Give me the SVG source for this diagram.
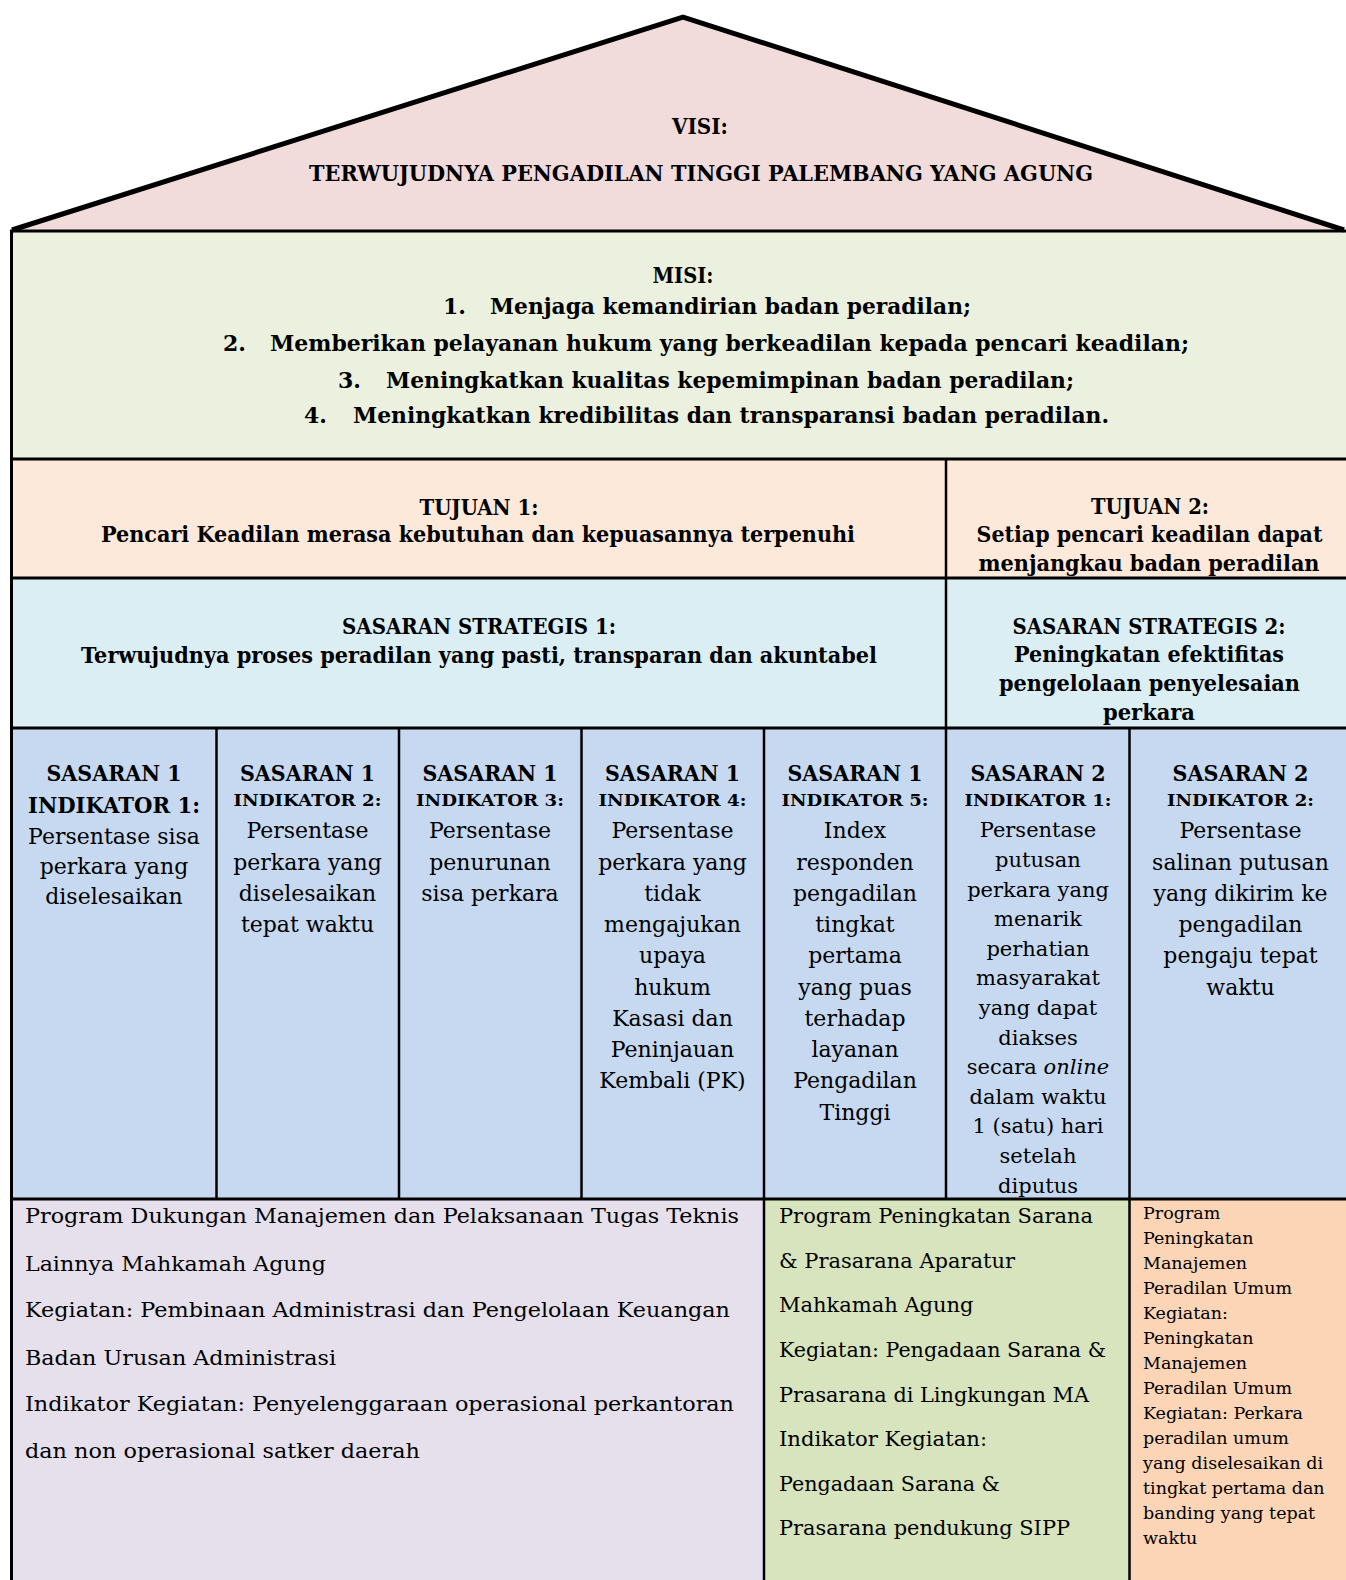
<svg xmlns="http://www.w3.org/2000/svg" width="1346" height="1580" viewBox="0 0 1346 1580">
<style>
.b{font-family:"DejaVu Serif","Liberation Serif",serif;font-weight:bold;fill:#000}
.r{font-family:"DejaVu Serif","Liberation Serif",serif;font-weight:normal;fill:#000}
.c{text-anchor:middle}
.h{font-size:22px}
.s{font-size:22px}
.i{font-size:17px}
.t{font-size:22px}
.t6{font-size:21px}
.p{font-size:21px}
.q{font-size:17.5px}
.ln{stroke:#000;fill:none}
</style>
<rect width="1346" height="1580" fill="#ffffff"/>
<g id="fills">
<rect x="12" y="231" width="1334" height="228" fill="#EBF1DE"/>
<rect x="12" y="459" width="1334" height="119" fill="#FDE9D9"/>
<rect x="12" y="578" width="1334" height="150" fill="#DBEEF3"/>
<rect x="12" y="728" width="1334" height="471" fill="#C6D9F1"/>
<rect x="12" y="1199" width="752" height="381" fill="#E5E0EC"/>
<rect x="764" y="1199" width="366" height="381" fill="#D7E4BD"/>
<rect x="1130" y="1199" width="216" height="381" fill="#FBD5B5"/>
</g>
<g id="roof">
<path d="M12,230 L683,17 L1344,230 Z" fill="#F2DCDB" stroke="none"/>
<path d="M12,230 L683,17 L1344,230" fill="none" stroke="#000" stroke-width="5" stroke-linejoin="miter"/>
<text class="b h c" x="700" y="134" textLength="56" lengthAdjust="spacingAndGlyphs">VISI:</text>
<text class="b h c" x="701" y="181" textLength="784" lengthAdjust="spacingAndGlyphs">TERWUJUDNYA PENGADILAN TINGGI PALEMBANG YANG AGUNG</text>
</g>
<g id="lines">
<line class="ln" x1="10" y1="231" x2="1346" y2="231" stroke-width="3"/>
<line class="ln" x1="11.5" y1="230" x2="11.5" y2="1580" stroke-width="3"/>
<line class="ln" x1="10" y1="459" x2="1346" y2="459" stroke-width="3"/>
<line class="ln" x1="10" y1="578" x2="1346" y2="578" stroke-width="3"/>
<line class="ln" x1="10" y1="728" x2="1346" y2="728" stroke-width="3"/>
<line class="ln" x1="10" y1="1199" x2="1346" y2="1199" stroke-width="3"/>
<line class="ln" x1="946" y1="459" x2="946" y2="1199" stroke-width="2.5"/>
<line class="ln" x1="216.5" y1="728" x2="216.5" y2="1199" stroke-width="2.5"/>
<line class="ln" x1="399" y1="728" x2="399" y2="1199" stroke-width="2.5"/>
<line class="ln" x1="581.5" y1="728" x2="581.5" y2="1199" stroke-width="2.5"/>
<line class="ln" x1="764" y1="728" x2="764" y2="1580" stroke-width="2.5"/>
<line class="ln" x1="1129.5" y1="728" x2="1129.5" y2="1580" stroke-width="2.5"/>
</g>
<g id="misi">
<text class="b h c" x="683" y="283" textLength="61" lengthAdjust="spacingAndGlyphs">MISI:</text>
<text class="b h" x="443" y="314">1.</text>
<text class="b h" x="490" y="314" textLength="481" lengthAdjust="spacingAndGlyphs">Menjaga kemandirian badan peradilan;</text>
<text class="b h" x="223" y="351">2.</text>
<text class="b h" x="270" y="351" textLength="919" lengthAdjust="spacingAndGlyphs">Memberikan pelayanan hukum yang berkeadilan kepada pencari keadilan;</text>
<text class="b h" x="338" y="388">3.</text>
<text class="b h" x="386" y="388" textLength="688" lengthAdjust="spacingAndGlyphs">Meningkatkan kualitas kepemimpinan badan peradilan;</text>
<text class="b h" x="304" y="423">4.</text>
<text class="b h" x="353" y="423" textLength="756" lengthAdjust="spacingAndGlyphs">Meningkatkan kredibilitas dan transparansi badan peradilan.</text>
</g>
<g id="tujuan1">
<text class="b h c" x="479" y="515" textLength="119" lengthAdjust="spacingAndGlyphs">TUJUAN 1:</text>
<text class="b h c" x="478" y="542" textLength="754" lengthAdjust="spacingAndGlyphs">Pencari Keadilan merasa kebutuhan dan kepuasannya terpenuhi</text>
</g>
<g id="tujuan2">
<text class="b h c" x="1150" y="514" textLength="118" lengthAdjust="spacingAndGlyphs">TUJUAN 2:</text>
<text class="b h c" x="1149.5" y="542" textLength="346" lengthAdjust="spacingAndGlyphs">Setiap pencari keadilan dapat</text>
<text class="b h c" x="1149" y="571" textLength="341" lengthAdjust="spacingAndGlyphs">menjangkau badan peradilan</text>
</g>
<g id="sasaran-strategis1">
<text class="b h c" x="479" y="634" textLength="274" lengthAdjust="spacingAndGlyphs">SASARAN STRATEGIS 1:</text>
<text class="b h c" x="479" y="663" textLength="796" lengthAdjust="spacingAndGlyphs">Terwujudnya proses peradilan yang pasti, transparan dan akuntabel</text>
</g>
<g id="sasaran-strategis2">
<text class="b h c" x="1149" y="634" textLength="273" lengthAdjust="spacingAndGlyphs">SASARAN STRATEGIS 2:</text>
<text class="b h c" x="1149" y="662" textLength="270" lengthAdjust="spacingAndGlyphs">Peningkatan efektifitas</text>
<text class="b h c" x="1149.5" y="691" textLength="301" lengthAdjust="spacingAndGlyphs">pengelolaan penyelesaian</text>
<text class="b h c" x="1149" y="720" textLength="92" lengthAdjust="spacingAndGlyphs">perkara</text>
</g>
<g id="s1-ind1">
<text class="b s c" x="114" y="781" textLength="135" lengthAdjust="spacingAndGlyphs">SASARAN 1</text>
<text class="b s c" x="114" y="813" textLength="172" lengthAdjust="spacingAndGlyphs">INDIKATOR 1:</text>
<text class="r t c" x="114" y="843.5">Persentase sisa</text>
<text class="r t c" x="114" y="874">perkara yang</text>
<text class="r t c" x="114" y="904">diselesaikan</text>
</g>
<g id="s1-ind2">
<text class="b s c" x="307.5" y="781" textLength="135" lengthAdjust="spacingAndGlyphs">SASARAN 1</text>
<text class="b i c" x="307.5" y="806" textLength="148" lengthAdjust="spacingAndGlyphs">INDIKATOR 2:</text>
<text class="r t c" x="307.5" y="838.4">Persentase</text>
<text class="r t c" x="307.5" y="869.6">perkara yang</text>
<text class="r t c" x="307.5" y="900.9">diselesaikan</text>
<text class="r t c" x="307.5" y="932.1">tepat waktu</text>
</g>
<g id="s1-ind3">
<text class="b s c" x="490" y="781" textLength="135" lengthAdjust="spacingAndGlyphs">SASARAN 1</text>
<text class="b i c" x="490" y="806" textLength="148" lengthAdjust="spacingAndGlyphs">INDIKATOR 3:</text>
<text class="r t c" x="490" y="838.4">Persentase</text>
<text class="r t c" x="490" y="869.6">penurunan</text>
<text class="r t c" x="490" y="900.9">sisa perkara</text>
</g>
<g id="s1-ind4">
<text class="b s c" x="672.5" y="781" textLength="135" lengthAdjust="spacingAndGlyphs">SASARAN 1</text>
<text class="b i c" x="672.5" y="806" textLength="148" lengthAdjust="spacingAndGlyphs">INDIKATOR 4:</text>
<text class="r t c" x="672.5" y="838.4">Persentase</text>
<text class="r t c" x="672.5" y="869.6">perkara yang</text>
<text class="r t c" x="672.5" y="900.9">tidak</text>
<text class="r t c" x="672.5" y="932.1">mengajukan</text>
<text class="r t c" x="672.5" y="963.4">upaya</text>
<text class="r t c" x="672.5" y="994.6">hukum</text>
<text class="r t c" x="672.5" y="1025.8">Kasasi dan</text>
<text class="r t c" x="672.5" y="1057.1">Peninjauan</text>
<text class="r t c" x="672.5" y="1088.3">Kembali (PK)</text>
</g>
<g id="s1-ind5">
<text class="b s c" x="855" y="781" textLength="135" lengthAdjust="spacingAndGlyphs">SASARAN 1</text>
<text class="b i c" x="855" y="806" textLength="147" lengthAdjust="spacingAndGlyphs">INDIKATOR 5:</text>
<text class="r t c" x="855" y="838.4">Index</text>
<text class="r t c" x="855" y="869.6">responden</text>
<text class="r t c" x="855" y="900.9">pengadilan</text>
<text class="r t c" x="855" y="932.1">tingkat</text>
<text class="r t c" x="855" y="963.4">pertama</text>
<text class="r t c" x="855" y="994.6">yang puas</text>
<text class="r t c" x="855" y="1025.8">terhadap</text>
<text class="r t c" x="855" y="1057.1">layanan</text>
<text class="r t c" x="855" y="1088.3">Pengadilan</text>
<text class="r t c" x="855" y="1119.6">Tinggi</text>
</g>
<g id="s2-ind1">
<text class="b s c" x="1038" y="781" textLength="135" lengthAdjust="spacingAndGlyphs">SASARAN 2</text>
<text class="b i c" x="1038" y="806" textLength="147" lengthAdjust="spacingAndGlyphs">INDIKATOR 1:</text>
<text class="r t6 c" x="1038" y="837.4">Persentase</text>
<text class="r t6 c" x="1038" y="867">putusan</text>
<text class="r t6 c" x="1038" y="896.6">perkara yang</text>
<text class="r t6 c" x="1038" y="926.2">menarik</text>
<text class="r t6 c" x="1038" y="955.8">perhatian</text>
<text class="r t6 c" x="1038" y="985.4">masyarakat</text>
<text class="r t6 c" x="1038" y="1015">yang dapat</text>
<text class="r t6 c" x="1038" y="1044.6">diakses</text>
<text class="r t6 c" x="1038" y="1074.2">secara <tspan font-style="italic">online</tspan></text>
<text class="r t6 c" x="1038" y="1103.8">dalam waktu</text>
<text class="r t6 c" x="1038" y="1133.4">1 (satu) hari</text>
<text class="r t6 c" x="1038" y="1163">setelah</text>
<text class="r t6 c" x="1038" y="1192.6">diputus</text>
</g>
<g id="s2-ind2">
<text class="b s c" x="1240.5" y="781" textLength="136" lengthAdjust="spacingAndGlyphs">SASARAN 2</text>
<text class="b i c" x="1240.5" y="806" textLength="147" lengthAdjust="spacingAndGlyphs">INDIKATOR 2:</text>
<text class="r t c" x="1240.5" y="838.4">Persentase</text>
<text class="r t c" x="1240.5" y="869.6">salinan putusan</text>
<text class="r t c" x="1240.5" y="900.9">yang dikirim ke</text>
<text class="r t c" x="1240.5" y="932.1">pengadilan</text>
<text class="r t c" x="1240.5" y="963.4">pengaju tepat</text>
<text class="r t c" x="1240.5" y="994.6">waktu</text>
</g>
<g id="program1">
<text class="r p" x="25" y="1223" textLength="714" lengthAdjust="spacingAndGlyphs">Program Dukungan Manajemen dan Pelaksanaan Tugas Teknis</text>
<text class="r p" x="25" y="1270.5" textLength="301" lengthAdjust="spacingAndGlyphs">Lainnya Mahkamah Agung</text>
<text class="r p" x="25" y="1317" textLength="705" lengthAdjust="spacingAndGlyphs">Kegiatan: Pembinaan Administrasi dan Pengelolaan Keuangan</text>
<text class="r p" x="25" y="1364.5" textLength="311" lengthAdjust="spacingAndGlyphs">Badan Urusan Administrasi</text>
<text class="r p" x="25" y="1411" textLength="709" lengthAdjust="spacingAndGlyphs">Indikator Kegiatan: Penyelenggaraan operasional perkantoran</text>
<text class="r p" x="25" y="1458" textLength="395" lengthAdjust="spacingAndGlyphs">dan non operasional satker daerah</text>
</g>
<g id="program2">
<text class="r p" x="779" y="1223" textLength="314" lengthAdjust="spacingAndGlyphs">Program Peningkatan Sarana</text>
<text class="r p" x="779" y="1267.5" textLength="236" lengthAdjust="spacingAndGlyphs">&amp; Prasarana Aparatur</text>
<text class="r p" x="779" y="1312">Mahkamah Agung</text>
<text class="r p" x="779" y="1357" textLength="327" lengthAdjust="spacingAndGlyphs">Kegiatan: Pengadaan Sarana &amp;</text>
<text class="r p" x="779" y="1401.5" textLength="310" lengthAdjust="spacingAndGlyphs">Prasarana di Lingkungan MA</text>
<text class="r p" x="779" y="1446" textLength="208" lengthAdjust="spacingAndGlyphs">Indikator Kegiatan:</text>
<text class="r p" x="779" y="1490.5" textLength="221" lengthAdjust="spacingAndGlyphs">Pengadaan Sarana &amp;</text>
<text class="r p" x="779" y="1535" textLength="291" lengthAdjust="spacingAndGlyphs">Prasarana pendukung SIPP</text>
</g>
<g id="program3">
<text class="r q" x="1143" y="1219">Program</text>
<text class="r q" x="1143" y="1244">Peningkatan</text>
<text class="r q" x="1143" y="1269">Manajemen</text>
<text class="r q" x="1143" y="1294">Peradilan Umum</text>
<text class="r q" x="1143" y="1319">Kegiatan:</text>
<text class="r q" x="1143" y="1344">Peningkatan</text>
<text class="r q" x="1143" y="1369">Manajemen</text>
<text class="r q" x="1143" y="1394">Peradilan Umum</text>
<text class="r q" x="1143" y="1419">Kegiatan: Perkara</text>
<text class="r q" x="1143" y="1444">peradilan umum</text>
<text class="r q" x="1143" y="1469">yang diselesaikan di</text>
<text class="r q" x="1143" y="1494">tingkat pertama dan</text>
<text class="r q" x="1143" y="1519">banding yang tepat</text>
<text class="r q" x="1143" y="1544">waktu</text>
</g>
</svg>
